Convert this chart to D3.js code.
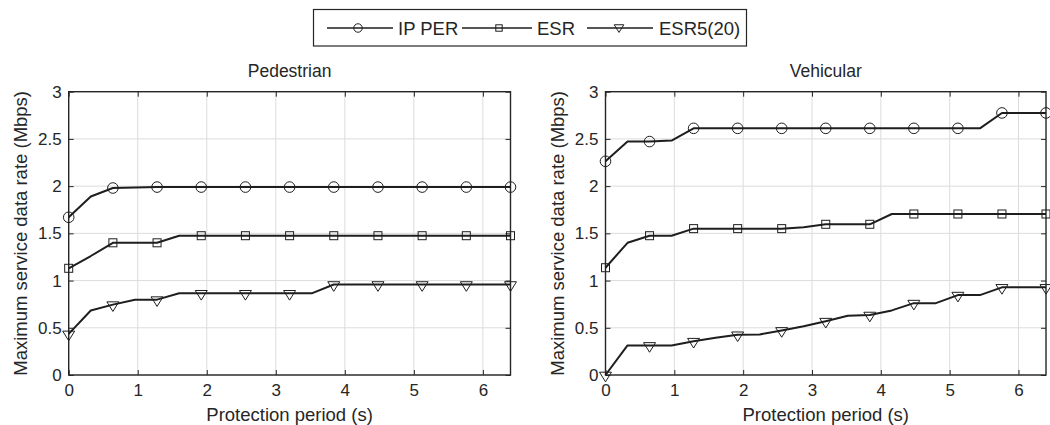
<!DOCTYPE html>
<html><head><meta charset="utf-8">
<script src="https://cdn.jsdelivr.net/npm/d3@7"></script>
<style>
html,body{margin:0;padding:0;background:#fff;}
svg{display:block;font-family:"Liberation Sans",Arial,Helvetica,sans-serif;}
</style></head>
<body><svg id="c" width="1050" height="425"></svg>
<script>
// ---- data ----
const protectionPeriod = [0,0.32,0.64,0.96,1.28,1.6,1.92,2.24,2.56,2.88,3.2,3.52,3.84,4.16,4.48,4.8,5.12,5.44,5.76,6.08,6.4];
const pedIPPER = [1.67,1.89,1.98,1.985,1.99,1.99,1.99,1.99,1.99,1.99,1.99,1.99,1.99,1.99,1.99,1.99,1.99,1.99,1.99,1.99,1.99];
const pedESR   = [1.13,1.26,1.40,1.40,1.40,1.475,1.475,1.475,1.475,1.475,1.475,1.475,1.475,1.475,1.475,1.475,1.475,1.475,1.475,1.475,1.475];
const pedESR5  = [0.435,0.683,0.745,0.796,0.798,0.865,0.865,0.865,0.865,0.865,0.865,0.865,0.958,0.958,0.958,0.958,0.958,0.958,0.958,0.958,0.958];
const vehIPPER = [2.263,2.472,2.472,2.482,2.612,2.612,2.612,2.612,2.612,2.612,2.612,2.612,2.612,2.612,2.612,2.612,2.612,2.612,2.775,2.775,2.775];
const vehESR   = [1.136,1.40,1.475,1.475,1.55,1.55,1.55,1.55,1.55,1.564,1.596,1.596,1.596,1.705,1.705,1.705,1.705,1.705,1.705,1.705,1.705];
const vehESR5  = [0,0.313,0.313,0.313,0.358,0.394,0.426,0.43,0.472,0.517,0.57,0.627,0.635,0.684,0.761,0.761,0.846,0.846,0.928,0.928,0.928];
const seriesNames = ["IP PER","ESR","ESR5(20)"];
const markerTypes = ["circle","square","triangle"];
const panelTitles = ["Pedestrian","Vehicular"];
const xTicks = [0,1,2,3,4,5,6];
const yTicks = [0,0.5,1,1.5,2,2.5,3];
const yTickLabels = ["0","0.5","1","1.5","2","2.5","3"];
const xLabel = "Protection period (s)";
const yLabel = "Maximum service data rate (Mbps)";

// ---- layout ----
const svg = d3.select("#c");
const TXT = "#262626", AX = "#262626", GRID = "#dcdcdc", LINE = "#1e1e1e";
const panels = [
  {title: panelTitles[0], x0: 68.7, x1: 510.5, series:[pedIPPER,pedESR,pedESR5]},
  {title: panelTitles[1], x0: 605.5, x1: 1046, series:[vehIPPER,vehESR,vehESR5]}
];
const yTop = 91.7, yBot = 375;

function drawMarker(g, type, x, y, s) {
  s = s || 1;
  if (type === "circle") {
    g.append("circle").attr("cx", x).attr("cy", y).attr("r", 5.3*s)
      .attr("fill","none").attr("stroke",LINE).attr("stroke-width",1);
  } else if (type === "square") {
    const h = 4*s;
    g.append("rect").attr("x", x-h).attr("y", y-h).attr("width", 2*h).attr("height", 2*h)
      .attr("fill","none").attr("stroke",LINE).attr("stroke-width",1);
  } else {
    g.append("path")
      .attr("d", `M${x-6*s},${y-2.8*s}L${x+6*s},${y-2.8*s}L${x},${y+6.8*s}Z`)
      .attr("fill","none").attr("stroke",LINE).attr("stroke-width",1);
  }
}

panels.forEach(p => {
  const x = d3.scaleLinear().domain([0,6.4]).range([p.x0,p.x1]);
  const y = d3.scaleLinear().domain([0,3]).range([yBot,yTop]);
  const g = svg.append("g");

  // grid
  g.selectAll(".gx").data(xTicks).enter().append("line")
    .attr("x1",d=>x(d)).attr("x2",d=>x(d)).attr("y1",yTop).attr("y2",yBot)
    .attr("stroke",GRID).attr("stroke-width",1);
  g.selectAll(".gy").data(yTicks).enter().append("line")
    .attr("x1",p.x0).attr("x2",p.x1).attr("y1",d=>y(d)).attr("y2",d=>y(d))
    .attr("stroke",GRID).attr("stroke-width",1);

  // axes via d3 axis (inner ticks), plus box
  const axB = d3.axisBottom(x).tickValues(xTicks).tickSizeInner(-5).tickSizeOuter(0).tickPadding(9).tickFormat(d3.format("d"));
  const axT = d3.axisTop(x).tickValues(xTicks).tickSizeInner(-5).tickSizeOuter(0).tickFormat("");
  const axL = d3.axisLeft(y).tickValues(yTicks).tickSizeInner(-5).tickSizeOuter(0).tickPadding(7)
    .tickFormat((d,i)=>yTickLabels[i]);
  const axR = d3.axisRight(y).tickValues(yTicks).tickSizeInner(-5).tickSizeOuter(0).tickFormat("");
  const gb = g.append("g").attr("transform",`translate(0,${yBot})`).call(axB);
  const gt = g.append("g").attr("transform",`translate(0,${yTop})`).call(axT);
  const gl = g.append("g").attr("transform",`translate(${p.x0},0)`).call(axL);
  const gr = g.append("g").attr("transform",`translate(${p.x1},0)`).call(axR);
  [gb,gt,gl,gr].forEach(a=>{
    a.select(".domain").remove();
    a.selectAll(".tick line").attr("stroke",AX).attr("stroke-width",1);
    a.selectAll(".tick text").attr("fill",TXT).style("font-size","17px")
      .style("font-family",'"Liberation Sans",Arial,sans-serif');
  });
  gb.selectAll(".tick text").attr("dy","0.71em");
  g.append("rect").attr("x",p.x0).attr("y",yTop).attr("width",p.x1-p.x0).attr("height",yBot-yTop)
    .attr("fill","none").attr("stroke",AX).attr("stroke-width",1.4);

  // series lines
  const line = d3.line().x((d,i)=>x(protectionPeriod[i])).y(d=>y(d));
  p.series.forEach((s,si)=>{
    g.append("path").datum(s).attr("d",line).attr("fill","none")
      .attr("stroke",LINE).attr("stroke-width",2).attr("stroke-linejoin","round");
    s.forEach((v,i)=>{ if(i%2===0) drawMarker(g, markerTypes[si], x(protectionPeriod[i]), y(v)); });
  });

  // title, labels
  const cx = (p.x0+p.x1)/2;
  g.append("text").attr("x",cx).attr("y",77).attr("text-anchor","middle")
    .attr("fill",TXT).style("font-size","17.5px").text(p.title);
  g.append("text").attr("x",cx).attr("y",420.5).attr("text-anchor","middle")
    .attr("fill",TXT).style("font-size","18.5px").text(xLabel);
  g.append("text").attr("transform",`translate(${p.x0-42},${(yTop+yBot)/2}) rotate(-90)`)
    .attr("text-anchor","middle").attr("fill",TXT).style("font-size","18.5px").text(yLabel);
});

// legend
const lg = svg.append("g");
lg.append("rect").attr("x",313.5).attr("y",9.5).attr("width",433).attr("height",36.5)
  .attr("fill","#fff").attr("stroke",AX).attr("stroke-width",1.2);
const legendItems = [
  {lx0:327, lx1:393, mx:358, tx:398},
  {lx0:462, lx1:532, mx:499, tx:537},
  {lx0:587, lx1:653, mx:619, tx:659}
];
legendItems.forEach((it,i)=>{
  lg.append("line").attr("x1",it.lx0).attr("x2",it.lx1).attr("y1",28).attr("y2",28)
    .attr("stroke",LINE).attr("stroke-width",1.6);
  drawMarker(lg, markerTypes[i], it.mx, i===2?27:28, 0.8);
  lg.append("text").attr("x",it.tx).attr("y",35).attr("fill",TXT)
    .style("font-size","18.5px").text(seriesNames[i]);
});
</script></body></html>
